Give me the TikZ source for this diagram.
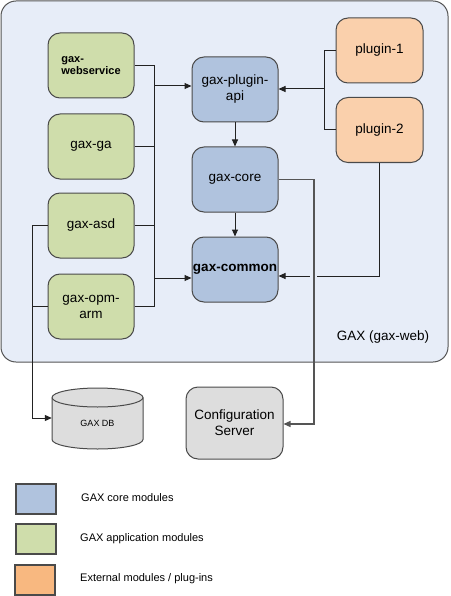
\documentclass[tikz,border=0pt]{standalone}
\usepackage{fontspec}
\setmainfont{Liberation Sans}
\usetikzlibrary{arrows.meta}
\definecolor{contfill}{HTML}{E7EDF8}
\definecolor{contline}{HTML}{555555}
\definecolor{boxline}{HTML}{4A4A4A}
\definecolor{coreblue}{HTML}{B0C3DE}
\definecolor{appgreen}{HTML}{CFDDAB}
\definecolor{extorange}{HTML}{FAD0AC}
\definecolor{legorange}{HTML}{F8B880}
\definecolor{greyfill}{HTML}{DDDDDD}
\definecolor{linec}{HTML}{222222}
\definecolor{greyline}{HTML}{555555}
\begin{document}
\begin{tikzpicture}[x=1pt,y=-1pt,
  box/.style={draw=boxline, line width=1pt, rounded corners=12pt, minimum width=86pt,
    minimum height=65pt, inner sep=0pt, font=\fontsize{13.5}{16}\selectfont, align=center},
  corebox/.style={box, fill=coreblue},
  appbox/.style={box, fill=appgreen},
  extbox/.style={box, fill=extorange, minimum width=87pt},
  conn/.style={line width=1pt, draw=linec},
  arr/.style={conn, -{Triangle[length=7pt,width=6pt]}},
  legbox/.style={draw=boxline, line width=1.2pt, minimum width=40pt, minimum height=30pt, inner sep=0pt},
  legtext/.style={anchor=west, inner sep=0pt, font=\fontsize{11}{13}\selectfont}
]
\useasboundingbox (0,0) rectangle (450,596);

% container
\node[draw=contline, fill=contfill, line width=1pt, rounded corners=15pt,
  minimum width=447pt, minimum height=361pt, inner sep=0pt] (gax) at (224.5,181.5) {};
\node[font=\fontsize{13.5}{16}\selectfont, inner sep=0pt] (gaxlabel) at (383,337) {GAX (gax-web)};

% application modules
\node[appbox, align=left, font=\bfseries\fontsize{11}{12}\selectfont] (ws) at (91,65.5) {gax-\\webservice};
\node[appbox] (ga) at (91,146.5) {gax-ga};
\node[appbox] (asd) at (91,225.5) {gax-asd};
\node[appbox] (opm) at (91,306.5) {gax-opm-\\arm};

% core modules
\node[corebox] (api) at (235,89.5) {gax-plugin-\\api};
\node[corebox] (core) at (235,179.5) {gax-core};
\node[corebox, font=\bfseries\fontsize{13.5}{16}\selectfont] (common) at (235,269.5) {gax-common};

% plugins
\node[extbox] (p1) at (379.5,50.5) {plugin-1};
\node[extbox] (p2) at (379.5,130) {plugin-2};

% database cylinder
\filldraw[fill=greyfill, draw=boxline, line width=1pt]
  (52,397.5) -- (52,439.5) arc[start angle=180, end angle=360, x radius=45.5pt, y radius=9.5pt]
  -- (143,397.5) arc[start angle=0, end angle=180, x radius=45.5pt, y radius=9.5pt] -- cycle;
\draw[draw=boxline, line width=1pt] (52,397.5) arc[start angle=180, end angle=360, x radius=45.5pt, y radius=9.5pt];
\node[minimum width=91pt, inner sep=0pt, font=\fontsize{9}{11}\selectfont] (db) at (97.5,423) {GAX DB};

% configuration server
\node[box, fill=greyfill, minimum width=97pt, minimum height=72pt] (cfg) at (234.5,423) {Configuration\\Server};

% bus coordinates
\coordinate (busA) at (154,86);
\coordinate (busB) at (154,278);
\coordinate (busC) at (324,89);
\coordinate (busE) at (314,424);
\coordinate (busF) at (32,418);

% connectors
\draw[arr] (ws.east) -| (busA) -- (busA -| api.west);
\draw[arr] (ga.east) -| (busB) -- (busB -| common.west);
\draw[conn] (asd.east) -| (busA);
\draw[conn] (opm.east) -| (busB);
\draw[arr] (p1.west) -| (busC) -- (busC -| api.east);
\draw[conn] (p2.west) -| (busC);
\draw[arr] (api.south) -- (core.north);
\draw[arr] (core.south) -- (common.north);
\draw[arr] (p2.south) |- ([yshift=-6.5pt]common.east);
\fill[contfill] (310,272) rectangle (317,280);
\draw[arr, draw=greyline, line width=1.2pt] (core.east) -| (busE) -- (busE -| cfg.east);
\draw[arr] (asd.west) -| (busF) -- (busF -| db.west);
\draw[conn] (opm.west) -| (busF);

% legend
\node[legbox, fill=coreblue] (l1) at (36,499) {};
\node[legbox, fill=appgreen] (l2) at (36,539) {};
\node[legbox, fill=legorange] (l3) at (35,580) {};
\node[legtext] (t1) at (81,498) {GAX core modules};
\node[legtext] (t2) at (80,539) {GAX application modules};
\node[legtext] (t3) at (80,579) {External modules / plug-ins};
\end{tikzpicture}
\end{document}
